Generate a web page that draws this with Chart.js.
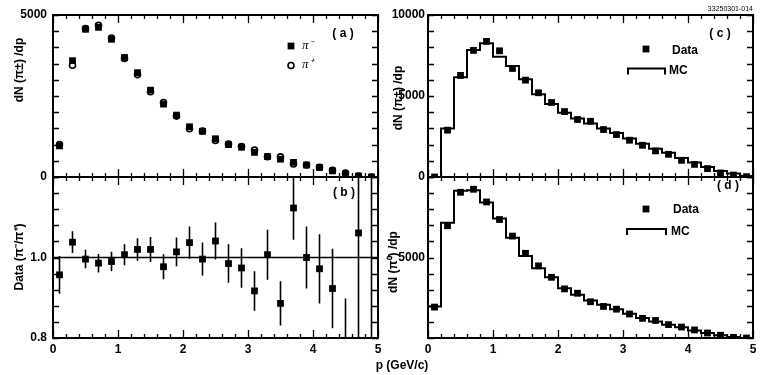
<!DOCTYPE html>
<html><head><meta charset="utf-8">
<script src="https://cdn.jsdelivr.net/npm/chart.js@4/dist/chart.umd.min.js"></script>
<style>
html,body{margin:0;padding:0;background:#fff;}
#wrap{position:relative;width:761px;height:375px;overflow:hidden;background:#fff;}
canvas{position:absolute;left:0;top:0;}
</style></head><body>
<div id="wrap">
<canvas id="ca" width="761" height="375"></canvas>
<canvas id="cb" width="761" height="375"></canvas>
<canvas id="cc" width="761" height="375"></canvas>
<canvas id="cd" width="761" height="375"></canvas>
</div>
<script>
// ---- data ----
const momentum = [0.1,0.3,0.5,0.7,0.9,1.1,1.3,1.5,1.7,1.9,2.1,2.3,2.5,2.7,2.9,3.1,3.3,3.5,3.7,3.9,4.1,4.3,4.5,4.7,4.9];
const binEdges = [0,0.2,0.4,0.6,0.8,1.0,1.2,1.4,1.6,1.8,2.0,2.2,2.4,2.6,2.8,3.0,3.2,3.4,3.6,3.8,4.0,4.2,4.4,4.6,4.8,5.0];
const xTickLabels = ['0','1','2','3','4','5'];
const piMinus = [960,3590,4560,4620,4250,3690,3220,2680,2250,1910,1550,1410,1180,1000,920,760,630,550,450,370,290,190,90,30,0];
const piPlus  = [1000,3450,4580,4680,4290,3660,3160,2630,2300,1880,1490,1420,1130,1020,940,830,625,620,400,370,300,205,120,28,0];
const ratio    = [0.957,1.038,0.996,0.986,0.990,1.007,1.020,1.020,0.977,1.014,1.037,0.996,1.041,0.985,0.974,0.917,1.007,0.886,1.123,1.000,0.972,0.923,0.75,1.061,1.30];
const ratioErr = [0.047,0.027,0.023,0.023,0.024,0.026,0.028,0.031,0.031,0.036,0.040,0.041,0.046,0.048,0.049,0.049,0.062,0.055,0.079,0.077,0.086,0.099,0.148,0.30,0.60];
const chargedData = [0,2890,6270,7820,8370,7790,6700,5980,5200,4600,4040,3550,3440,2930,2620,2270,1960,1610,1400,1030,780,520,250,120,20];
const chargedMC   = [0,2990,6150,7840,8250,7420,6850,6040,5110,4500,3960,3610,3300,2990,2720,2370,2060,1750,1490,1180,890,620,370,210,60];
const neutralData = [1920,6970,9050,9240,8450,7360,6330,5260,4480,3770,3050,2780,2250,1960,1790,1490,1220,1090,830,680,500,310,170,40,0];
const neutralMC   = [1960,7160,9140,9180,8410,7420,6230,5090,4330,3770,3090,2680,2330,2060,1790,1510,1240,1030,830,660,470,310,170,60,0];

// ---- helpers ----
const FONT = "'Liberation Sans', Arial, Helvetica, sans-serif";
Chart.defaults.font.family = FONT;
Chart.defaults.color = '#000';

const pts = (vals) => momentum.map((p, i) => ({x: p, y: vals[i]}));
const steps = (vals) => binEdges.map((e, i) => ({x: e, y: vals[Math.min(i, vals.length - 1)]}));

const squareDS = (vals) => ({type:'scatter', data: pts(vals), pointStyle:'rect', pointRadius:4.8,
  backgroundColor:'#000', borderColor:'#000', borderWidth:0, showLine:false});

const framePlugin = {
  id: 'frameTicks',
  afterDraw(chart, args, o) {
    const {ctx, chartArea: a} = chart;
    const x = chart.scales.x, y = chart.scales.y;
    ctx.save();
    ctx.strokeStyle = '#000';
    ctx.lineWidth = 1.3;
    ctx.beginPath();
    const nx = Math.round((x.max - x.min) / o.xMinor);
    for (let i = 0; i <= nx; i++) {
      const v = x.min + i * o.xMinor;
      const px = Math.round(x.getPixelForValue(v)) + 0.5;
      const r = v / o.xMajor;
      const len = Math.abs(r - Math.round(r)) < 1e-6 ? 8 : 4;
      ctx.moveTo(px, a.bottom); ctx.lineTo(px, a.bottom - len);
      ctx.moveTo(px, a.top); ctx.lineTo(px, a.top + len);
    }
    const ny = Math.round((y.max - y.min) / o.yMinor);
    for (let i = 0; i <= ny; i++) {
      const v = y.min + i * o.yMinor;
      const py = Math.round(y.getPixelForValue(v)) + 0.5;
      ctx.moveTo(a.left, py); ctx.lineTo(a.left + 6, py);
      ctx.moveTo(a.right, py); ctx.lineTo(a.right - 6, py);
    }
    ctx.stroke();
    ctx.lineWidth = 2;
    ctx.strokeRect(a.left, a.top, a.right - a.left, a.bottom - a.top);
    ctx.restore();
  }
};

const textPlugin = {
  id: 'texts',
  afterDraw(chart, args, o) {
    const ctx = chart.ctx;
    ctx.save();
    ctx.fillStyle = '#000'; ctx.strokeStyle = '#000';
    (o.items || []).forEach(it => {
      if (it.kind === 'square') {
        ctx.fillRect(it.x - 3.4, it.y - 3.4, 6.8, 6.8);
      } else if (it.kind === 'circle') {
        ctx.lineWidth = 1.6; ctx.fillStyle = '#fff';
        ctx.beginPath(); ctx.arc(it.x, it.y, 3, 0, Math.PI * 2); ctx.fill(); ctx.stroke();
        ctx.fillStyle = '#000';
      } else if (it.kind === 'bracket') {
        ctx.lineWidth = 2;
        ctx.beginPath();
        ctx.moveTo(it.x1, it.y + 6); ctx.lineTo(it.x1, it.y); ctx.lineTo(it.x2, it.y); ctx.lineTo(it.x2, it.y + 6);
        ctx.stroke();
      } else {
        ctx.save();
        ctx.font = it.font || ('bold 12px ' + FONT);
        ctx.textAlign = it.align || 'center';
        ctx.textBaseline = 'middle';
        ctx.translate(it.x, it.y);
        if (it.rot) ctx.rotate(it.rot);
        ctx.fillText(it.text, 0, 0);
        ctx.restore();
      }
    });
    ctx.restore();
  }
};

const errPlugin = {
  id: 'errBars',
  beforeDatasetsDraw(chart, args, o) {
    if (!o.values) return;
    const {ctx, chartArea: a} = chart;
    const x = chart.scales.x, y = chart.scales.y;
    ctx.save();
    ctx.beginPath(); ctx.rect(a.left, a.top, a.right - a.left, a.bottom - a.top); ctx.clip();
    ctx.strokeStyle = '#000'; ctx.lineWidth = 1.6;
    ctx.beginPath();
    o.values.forEach((v, i) => {
      const px = x.getPixelForValue(o.xs[i]);
      ctx.moveTo(px, y.getPixelForValue(v + o.errs[i]));
      ctx.lineTo(px, y.getPixelForValue(v - o.errs[i]));
    });
    ctx.stroke();
    if (o.refLine !== undefined) {
      ctx.lineWidth = 1.5;
      ctx.beginPath();
      const py = y.getPixelForValue(o.refLine);
      ctx.moveTo(a.left, py); ctx.lineTo(a.right, py); ctx.stroke();
    }
    ctx.restore();
  }
};

function xScale(showLabels) {
  return {
    type: 'linear', min: 0, max: 5,
    grid: {display: false, drawTicks: false}, border: {display: false},
    ticks: {display: showLabels, stepSize: 1, padding: 4, autoSkip: false, maxRotation: 0,
            color: '#000', font: {size: 12, weight: 'bold'},
            callback: (v) => xTickLabels[Math.round(v)]},
    afterFit: (s) => { s.height = showLabels ? 22 : 0; }
  };
}
function yScale(min, max, step, width, pad, keep, fmt) {
  return {
    type: 'linear', min, max,
    grid: {display: false, drawTicks: false}, border: {display: false},
    ticks: {stepSize: step, padding: pad, color: '#000', font: {size: 12, weight: 'bold'},
            callback: fmt || ((v) => String(v))},
    afterBuildTicks: keep ? (s) => { s.ticks = keep.map(v => ({value: v})); } : undefined,
    afterFit: (s) => { s.width = width; }
  };
}
function makeChart(id, datasets, scales, padding, plugOpts) {
  return new Chart(document.getElementById(id), {
    type: 'scatter',
    data: {datasets},
    options: {
      responsive: false, animation: false, events: [],
      layout: {padding},
      scales,
      plugins: Object.assign({legend: {display: false}, tooltip: {enabled: false}}, plugOpts)
    },
    plugins: [errPlugin, framePlugin, textPlugin]
  });
}

// (a) charged pion spectra
makeChart('ca', [
  squareDS(piMinus),
  {type:'scatter', data: pts(piPlus), pointStyle:'circle', pointRadius:3,
   backgroundColor:'#fff', borderColor:'#000', borderWidth:1.6}
], {x: xScale(false), y: yScale(0, 5000, 5000, 53, 6)},
{left:0, right:383, top:15, bottom:198},
{frameTicks: {xMinor:0.2, xMajor:1, yMinor:500},
 texts: {items: [
   {text:'( a )', x:343, y:34},
   {kind:'square', x:291, y:46},
   {text:'\u03C0\u207B', x:302, y:46, align:'left', font:"italic 13px 'Liberation Serif', serif"},
   {kind:'circle', x:291, y:65.5},
   {text:'\u03C0\u207A', x:302, y:65, align:'left', font:"italic 13px 'Liberation Serif', serif"},
   {text:'dN (\u03C0\u00B1) /dp', x:20, y:70, rot:-Math.PI/2}
 ]}});

// (b) ratio
makeChart('cb', [ squareDS(ratio) ],
{x: xScale(true), y: yScale(0.8, 1.2, 0.2, 53, 6, [0.8, 1.0], (v) => v.toFixed(1))},
{left:0, right:383, top:177, bottom:15},
{frameTicks: {xMinor:0.2, xMajor:1, yMinor:0.04},
 errBars: {values: ratio, errs: ratioErr, xs: momentum, refLine: 1.0},
 texts: {items: [
   {text:'( b )', x:344, y:193},
   {text:'Data (\u03C0\u207B/\u03C0\u207A)', x:20, y:257, rot:-Math.PI/2},
   {text:'p (GeV/c)', x:402, y:366},
   {text:'33250301-014', x:753, y:9, align:'right', font:"7px " + FONT}
 ]}});

// (c) charged pions data vs MC
makeChart('cc', [
  squareDS(chargedData),
  {type:'line', data: steps(chargedMC), stepped:'before', borderColor:'#000', borderWidth:2,
   pointRadius:0, fill:false, tension:0}
], {x: xScale(false), y: yScale(0, 10000, 5000, 48, 3)},
{left:380, right:8, top:15, bottom:198},
{frameTicks: {xMinor:0.2, xMajor:1, yMinor:1000},
 texts: {items: [
   {text:'( c )', x:720, y:34},
   {kind:'square', x:646, y:49},
   {text:'Data', x:672, y:51, align:'left'},
   {kind:'bracket', x1:628, x2:665, y:68.5},
   {text:'MC', x:669, y:71, align:'left'},
   {text:'dN (\u03C0\u00B1) /dp', x:399, y:98, rot:-Math.PI/2}
 ]}});

// (d) neutral pions data vs MC
makeChart('cd', [
  squareDS(neutralData),
  {type:'line', data: steps(neutralMC), stepped:'before', borderColor:'#000', borderWidth:2,
   pointRadius:0, fill:false, tension:0}
], {x: xScale(true), y: yScale(0, 10000, 5000, 48, 3, [5000])},
{left:380, right:8, top:177, bottom:15},
{frameTicks: {xMinor:0.2, xMajor:1, yMinor:1000},
 texts: {items: [
   {text:'( d )', x:728, y:186},
   {kind:'square', x:646, y:209},
   {text:'Data', x:673, y:210, align:'left'},
   {kind:'bracket', x1:627, x2:666, y:229},
   {text:'MC', x:671, y:232, align:'left'},
   {text:'dN (\u03C0\u2070) /dp', x:394, y:262, rot:-Math.PI/2}
 ]}});
</script>
</body></html>
